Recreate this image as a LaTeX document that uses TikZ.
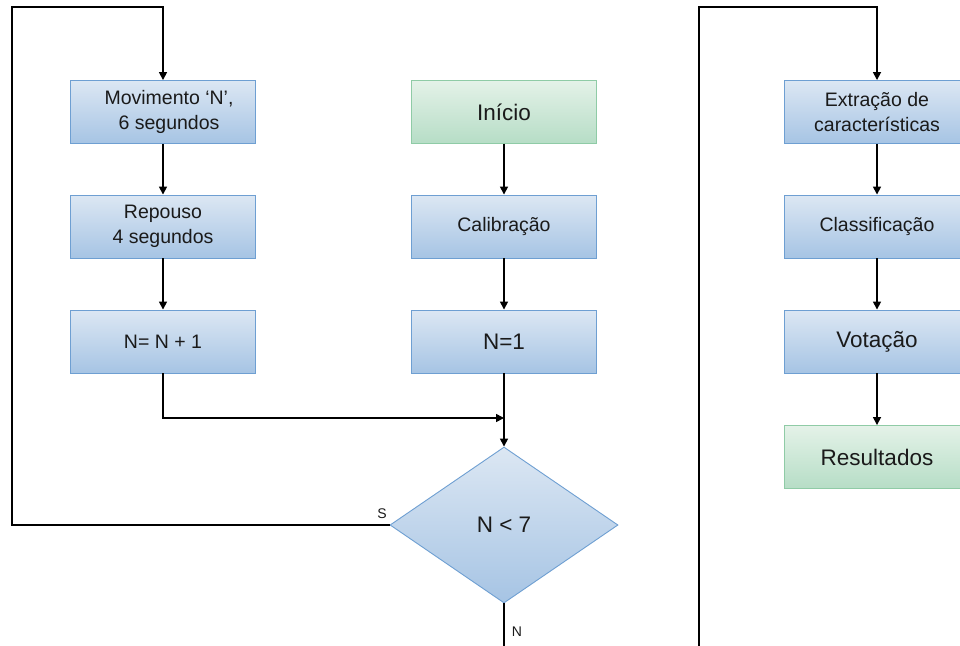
\documentclass[tikz,border=0pt]{standalone}
\usepackage{fontspec}
\setmainfont{Liberation Sans}
\usetikzlibrary{shapes.geometric,arrows.meta}
\definecolor{txt}{HTML}{1A1A1A}
\definecolor{bluetop}{HTML}{DCE7F3}
\definecolor{bluebot}{HTML}{A6C4E4}
\definecolor{blueline}{HTML}{6E9FD2}
\definecolor{greentop}{HTML}{E4F2E8}
\definecolor{greenbot}{HTML}{B6DDC6}
\definecolor{greenline}{HTML}{8FCBA6}
\tikzset{
  bluebox/.style={rectangle, draw=blueline, line width=0.9pt,
    top color=bluetop, bottom color=bluebot,
    minimum width=185pt, minimum height=63pt, inner sep=2pt,
    align=center, text=txt, font=\fontsize{19.5}{25}\selectfont},
  greenbox/.style={bluebox, draw=greenline, top color=greentop, bottom color=greenbot},
  bigtxt/.style={font=\fontsize{22.5}{27}\selectfont},
  decision/.style={diamond, draw=blueline, line width=0.9pt,
    top color=bluetop, bottom color=bluebot,
    minimum width=228pt, minimum height=156pt, inner sep=0pt,
    text=txt, font=\fontsize{22.5}{27}\selectfont},
  arr/.style={draw=black, line width=1.6pt, -{Triangle[length=8pt,width=8pt]}},
  lbl/.style={text=txt, font=\fontsize{14}{16}\selectfont, inner sep=0pt}
}
\begin{document}
\begin{tikzpicture}[x=1pt,y=-1pt]
\useasboundingbox (0,0) rectangle (960,645);
\clip (0,0) rectangle (960,645);
\fill[white] (0,0) rectangle (960,645);

% left column: movement cycle
\node[bluebox] (mov) at (163,112) {\hspace*{12pt}Movimento ‘N’,\\\hspace*{12pt}6 segundos};
\node[bluebox] (rep) at (163,226.5) {Repouso\\4 segundos};
\node[bluebox] (inc) at (163,341.5) {N= N + 1};

% middle column: start
\node[greenbox, bigtxt] (ini) at (504,112) {Início};
\node[bluebox] (cal) at (504,226.5) {Calibração};
\node[bluebox, bigtxt] (set) at (504,341.5) {N=1};
\node[decision] (dec) at (504,525) {N < 7};

% right column: processing
\node[bluebox] (ext) at (877,112) {Extração de\\características};
\node[bluebox] (cls) at (877,226.5) {Classificação};
\node[bluebox, bigtxt] (vot) at (877,341.5) {Votação};
\node[greenbox, bigtxt] (res) at (877,457) {Resultados};

% junction and routing points
\coordinate (join) at (504,418);
\coordinate (nw) at (12,7);
\coordinate (b1) at (504,670);
\coordinate (b2) at (699,670);
\coordinate (b3) at (699,7);

% connectors
\draw[arr] (mov) -- (rep);
\draw[arr] (rep) -- (inc);
\draw[arr] (ini) -- (cal);
\draw[arr] (cal) -- (set);
\draw[arr] (inc.south) |- (join);
\draw[arr] (set.south) -- (dec.north);
\draw[arr] (dec.west) -| (nw) -| (mov.north);
\draw[arr] (dec.south) -- (b1) -- (b2) -- (b3) -| (ext.north);
\draw[arr] (ext) -- (cls);
\draw[arr] (cls) -- (vot);
\draw[arr] (vot) -- (res);

% branch labels
\node[lbl] (ls) at (382,514) {S};
\node[lbl] (ln) at (517,632) {N};
\end{tikzpicture}
\end{document}
